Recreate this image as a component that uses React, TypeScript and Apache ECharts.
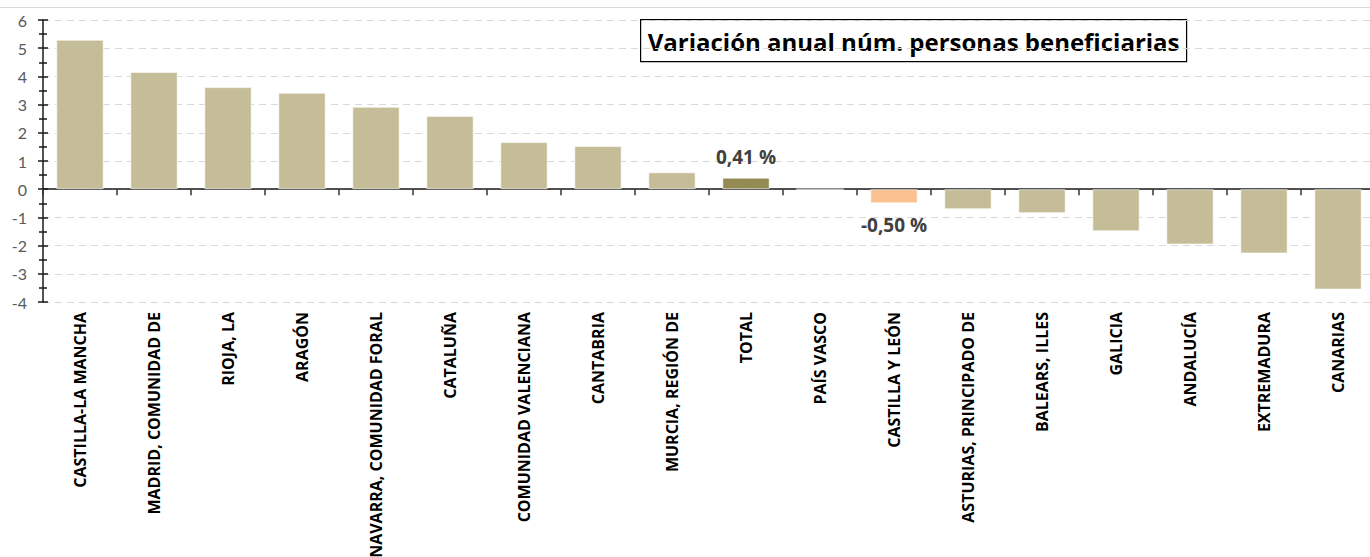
import React, { useEffect, useRef } from "react";
import * as echarts from "echarts";

const categories = [
  "CASTILLA-LA MANCHA",
  "MADRID, COMUNIDAD DE",
  "RIOJA, LA",
  "ARAGÓN",
  "NAVARRA, COMUNIDAD FORAL",
  "CATALUÑA",
  "COMUNIDAD VALENCIANA",
  "CANTABRIA",
  "MURCIA, REGIÓN DE",
  "TOTAL",
  "PAÍS VASCO",
  "CASTILLA Y LEÓN",
  "ASTURIAS, PRINCIPADO DE",
  "BALEARS, ILLES",
  "GALICIA",
  "ANDALUCÍA",
  "EXTREMADURA",
  "CANARIAS",
];

const values = [5.3, 4.16, 3.62, 3.42, 2.92, 2.6, 1.67, 1.53, 0.6, 0.41, 0, -0.5, -0.71, -0.85, -1.49, -1.96, -2.28, -3.56];

const labelled = ["TOTAL", "CASTILLA Y LEÓN"];
const yTicks = { min: -4, max: 6, interval: 1 };
const titleText = "Variación anual núm. personas beneficiarias";

const BASE = "#C4BD97";
const TOTAL_COLOR = "#948A54";
const HIGHLIGHT = "#FAC090";

export default function App() {
  const ref = useRef<HTMLDivElement>(null);
  useEffect(() => {
    if (!ref.current) return;
    const chart = echarts.init(ref.current, null, { renderer: "svg" });
    const fontFam = "'Open Sans', Lato, sans-serif";
    const data = values.map((v, i) => {
      const name = categories[i];
      const color = name === "TOTAL" ? TOTAL_COLOR : name === "CASTILLA Y LEÓN" ? HIGHLIGHT : BASE;
      const item: any = { value: v, itemStyle: { color } };
      if (labelled.includes(name)) {
        item.label = {
          show: true,
          position: v >= 0 ? "top" : "bottom",
          distance: v >= 0 ? 11 : 12,
          formatter: (p: any) => p.value.toFixed(2).replace(".", ",") + " %",
          fontFamily: fontFam,
          fontWeight: "bold",
          fontSize: 19,
          color: "#404040",
        };
      }
      return item;
    });
    chart.setOption({
      animation: false,
      grid: { left: 43, right: 5, top: 20, bottom: 255, containLabel: false, outerBoundsMode: "none" },
      xAxis: [
        {
          type: "category",
          data: categories,
          position: "bottom",
          axisLine: { show: true, onZero: true, lineStyle: { color: "#1a1a1a", width: 1.5 } },
          axisTick: { show: true, interval: 0, alignWithLabel: false, length: 6, lineStyle: { color: "#333", width: 1.5 } },
          axisLabel: { show: false },
          splitLine: { show: false },
        },
        {
          type: "category",
          data: categories,
          position: "bottom",
          axisLine: { show: false, onZero: false },
          axisTick: { show: false },
          axisLabel: {
            show: true,
            rotate: 90,
            interval: 0,
            margin: 10,
            fontFamily: fontFam,
            fontWeight: "bold",
            fontSize: 16,
            color: "#000",
          },
        },
      ],
      yAxis: [
        {
          type: "value",
          min: yTicks.min,
          max: yTicks.max,
          interval: yTicks.interval,
          position: "left",
          axisLine: { show: true, onZero: false, lineStyle: { color: "#1a1a1a", width: 1.5 } },
          axisTick: { show: true, inside: false, length: 5, lineStyle: { color: "#1a1a1a", width: 1.5 } },
          minorTick: { show: true, splitNumber: 2, length: 4, lineStyle: { color: "#1a1a1a", width: 1.5 } },
          axisLabel: { margin: 16, fontFamily: "Lato, sans-serif", fontSize: 16, color: "#595959" },
          splitLine: { show: true, lineStyle: { color: "#d9d9d9", type: [7, 5], width: 1 } },
        },
        {
          type: "value",
          min: yTicks.min,
          max: yTicks.max,
          interval: yTicks.interval,
          position: "left",
          axisLine: { show: false, onZero: false },
          axisTick: { show: true, inside: true, length: 5, lineStyle: { color: "#1a1a1a", width: 1.5 } },
          minorTick: { show: true, splitNumber: 2, length: 4, lineStyle: { color: "#1a1a1a", width: 1.5 } },
          axisLabel: { show: false },
          splitLine: { show: false },
        },
      ],
      series: [
        {
          type: "bar",
          xAxisIndex: 0,
          yAxisIndex: 0,
          data,
          barCategoryGap: "36%",
          itemStyle: { borderColor: "rgba(255,255,255,0.6)", borderWidth: 1 },
        },
      ],
      graphic: [
        {
          type: "line",
          shape: { x1: 0, y1: 7.5, x2: 1380, y2: 7.5 },
          style: { stroke: "#d9d9d9", lineWidth: 1 },
          silent: true,
        },
        {
          type: "group",
          left: 640,
          top: 19,
          children: [
            {
              type: "rect",
              shape: { x: 0, y: 0, width: 546, height: 42 },
              style: { fill: "#fff", stroke: "#000", lineWidth: 1.2 },
            },
            {
              type: "text",
              x: 273,
              y: 22,
              style: {
                text: titleText,
                fontFamily: fontFam,
                fontWeight: "bold",
                fontSize: 24,
                fill: "#000",
                align: "center",
                verticalAlign: "middle",
              },
            },
          ],
        },
      ],
    });
    return () => chart.dispose();
  }, []);
  return (
    <div style={{ position: "fixed", left: 0, top: 0, width: 1370, height: 557, overflow: "hidden", background: "#fff" }}>
      <div ref={ref} style={{ width: 1380, height: 557 }} />
    </div>
  );
}
